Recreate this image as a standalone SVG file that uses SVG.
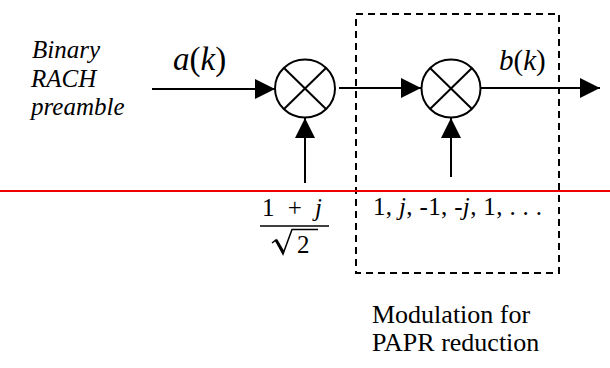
<svg xmlns="http://www.w3.org/2000/svg" width="610" height="368" viewBox="0 0 610 368" font-family="'Liberation Serif', 'Times New Roman', serif">
<style>
text{font-size:24px;fill:#000}
.i{font-style:italic}
.ln{stroke:#000;stroke-width:2;fill:none}
</style>
<defs>
<marker id="ah" markerUnits="userSpaceOnUse" markerWidth="20" markerHeight="20" refX="20" refY="10" orient="auto">
<path d="M0,0 L20,10 L0,20 z" fill="#000"/>
</marker>
</defs>
<rect x="0" y="0" width="610" height="368" fill="#fff"/>
<g id="box">
<rect x="356" y="14" width="203" height="259" fill="none" stroke="#000" stroke-width="2" stroke-dasharray="7 5"/>
</g>
<g id="redline">
<line x1="0" y1="191" x2="610" y2="191" stroke="#e00" stroke-width="2"/>
</g>
<g id="input-label">
<text class="i" x="32" y="58" style="font-size:25px">Binary</text>
<text class="i" x="31" y="87" style="font-size:25px">RACH</text>
<text class="i" x="31" y="115" style="font-size:25px">preamble</text>
</g>
<g id="mult1">
<ellipse cx="305" cy="88.5" rx="30" ry="29" class="ln"/>
<line x1="284" y1="68" x2="326" y2="109" class="ln"/>
<line x1="284" y1="109" x2="326" y2="68" class="ln"/>
</g>
<g id="mult2">
<ellipse cx="451" cy="88.5" rx="29.5" ry="29" class="ln"/>
<line x1="430" y1="68" x2="472" y2="109" class="ln"/>
<line x1="430" y1="109" x2="472" y2="68" class="ln"/>
</g>
<g id="connectors">
<line x1="152" y1="89" x2="275" y2="89" class="ln" marker-end="url(#ah)"/>
<line x1="339" y1="88" x2="421" y2="88" class="ln" marker-end="url(#ah)"/>
<line x1="481" y1="88" x2="600" y2="88" class="ln" marker-end="url(#ah)"/>
<line x1="305" y1="183" x2="305" y2="118" class="ln" marker-end="url(#ah)"/>
<line x1="451" y1="177" x2="451" y2="118" class="ln" marker-end="url(#ah)"/>
</g>
<g id="labels">
<text x="173" y="70" style="font-size:33px"><tspan class="i">a</tspan>(<tspan class="i">k</tspan>)</text>
<text x="499" y="70" style="font-size:29px"><tspan class="i">b</tspan>(<tspan class="i">k</tspan>)</text>
<text x="373" y="215" style="font-size:25px" textLength="169">1, <tspan class="i">j</tspan>, -1, -<tspan class="i">j</tspan>, 1, . . .</text>
</g>
<g id="fraction">
<text x="262" y="216" style="font-size:25px" textLength="60">1 +  <tspan class="i">j</tspan></text>
<line x1="260" y1="226" x2="329" y2="226" stroke="#000" stroke-width="1.5"/>
<path d="M272,243 L276,240 L283,254 L292,229.5 L318,229.5" fill="none" stroke="#000" stroke-width="1.5"/>
<path d="M276,240 L283,252" stroke="#000" stroke-width="3"/>
<text x="297" y="253" style="font-size:25px">2</text>
</g>
<g id="caption">
<text x="372" y="323" style="font-size:26px">Modulation for</text>
<text x="372" y="351" style="font-size:26px">PAPR reduction</text>
</g>
</svg>
